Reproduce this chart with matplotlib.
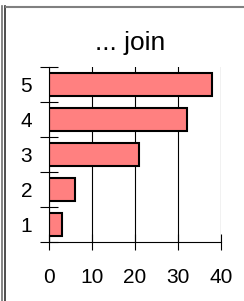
import matplotlib
matplotlib.use('Agg')
import matplotlib.pyplot as plt
from matplotlib.lines import Line2D

plt.rcParams['font.family'] = ['Liberation Sans', 'DejaVu Sans']

categories = [1, 2, 3, 4, 5]
values = [3, 6, 21, 32, 38]
x_ticks = [0, 10, 20, 30, 40]
title = '... join'

W, H = 244, 301
fig = plt.figure(figsize=(W / 100, H / 100), dpi=100)
ax = fig.add_axes([49 / W, 1 - 242 / H, (221 - 49) / W, (242 - 67) / H])

ax.barh(categories, values, height=0.66, color='#ff8080', edgecolor='black',
        linewidth=1.5, zorder=3)

ax.set_xlim(0, 40)
ax.set_ylim(0.5, 5.5)
ax.set_xticks(x_ticks)
ax.set_xticklabels([str(t) for t in x_ticks])
ax.grid(axis='x', color='black', linewidth=0.8, zorder=0)

# boundary ticks (crossing the axis) and labels at category centres
ax.set_yticks([0.5, 1.5, 2.5, 3.5, 4.5, 5.5])
ax.set_yticklabels([])
ax.set_yticks(categories, minor=True)
ax.set_yticklabels([str(c) for c in categories], minor=True)
ax.tick_params(axis='y', which='major', direction='inout', length=13, width=0.8)
ax.tick_params(axis='y', which='minor', length=0, pad=12.2, labelsize=15)
ax.tick_params(axis='x', direction='inout', length=11, width=0.8, pad=13.5,
               labelsize=15)

for s in ['top', 'right']:
    ax.spines[s].set_visible(False)
for s in ['left', 'bottom']:
    ax.spines[s].set_linewidth(0.8)
    ax.spines[s].set_zorder(4)

fig.text(130.5 / W, 1 - 50 / H, title, ha='center', va='baseline', fontsize=19)

# outer frame remnants
fig.add_artist(Line2D([1.5 / W, 1.5 / W], [0, 1 - 5.5 / H], color='#707070', linewidth=1.2))
fig.add_artist(Line2D([4.5 / W, 4.5 / W], [0, 1 - 5.5 / H], color='#303030', linewidth=1.2))
fig.add_artist(Line2D([5.5 / W, 1], [1 - 6.5 / H, 1 - 6.5 / H], color='#808080', linewidth=1.5))

fig.savefig('out.png', dpi=100)
